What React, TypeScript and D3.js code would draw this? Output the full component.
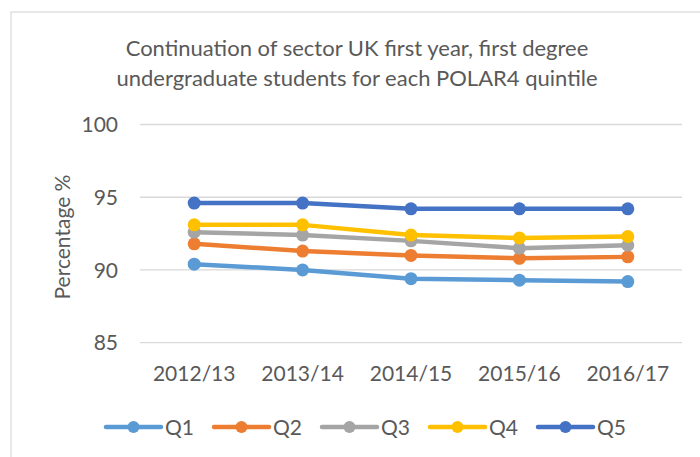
import * as d3 from "d3";

const years = ["2012/13", "2013/14", "2014/15", "2015/16", "2016/17"];
const quintiles = ["Q1", "Q2", "Q3", "Q4", "Q5"];
const q1 = [90.4, 90.0, 89.4, 89.3, 89.2];
const q2 = [91.8, 91.3, 91.0, 90.8, 90.9];
const q3 = [92.6, 92.4, 92.0, 91.5, 91.7];
const q4 = [93.1, 93.1, 92.4, 92.2, 92.3];
const q5 = [94.6, 94.6, 94.2, 94.2, 94.2];
const yTicks = [85, 90, 95, 100];
const colors = ["#5B9BD5", "#ED7D31", "#A5A5A5", "#FFC000", "#4472C4"];

const series = [q1, q2, q3, q4, q5];

export default function App() {
  const width = 700;
  const height = 457;
  const font = "Lato, 'Open Sans', sans-serif";
  const textColor = "#595959";

  const x = d3.scaleBand<string>().domain(years).range([140, 682]);
  const y = d3.scaleLinear().domain([85, 100]).range([342.7, 124.5]);
  const line = d3
    .line<number>()
    .x((_, i) => (x(years[i]) as number) + x.bandwidth() / 2)
    .y((d) => y(d));

  const legendX = d3.scalePoint<string>().domain(quintiles).range([106, 538]);

  return (
    <svg
      width={width}
      height={height}
      style={{ position: "absolute", left: 0, top: 0, background: "#fff" }}
      fontFamily={font}
    >
      <rect x={11} y={12} width={720} height={470} fill="#fff" stroke="#d9d9d9" strokeWidth={1.2} />
      <text x={357} y={56} textAnchor="middle" fontSize={22} fill={textColor}>
        Continuation of sector UK first year, first degree
      </text>
      <text x={357} y={86} textAnchor="middle" fontSize={22} fill={textColor}>
        undergraduate students for each POLAR4 quintile
      </text>

      {yTicks.map((t) => (
        <g key={t}>
          <line x1={140} x2={682} y1={y(t)} y2={y(t)} stroke="#d9d9d9" strokeWidth={1.3} />
          <text x={118} y={y(t)} dy="0.36em" textAnchor="end" fontSize={21} fill={textColor}>
            {t}
          </text>
        </g>
      ))}

      <text
        transform="translate(70,237) rotate(-90)"
        textAnchor="middle"
        fontSize={21}
        fill={textColor}
      >
        Percentage %
      </text>

      {years.map((yr) => (
        <text
          key={yr}
          x={(x(yr) as number) + x.bandwidth() / 2}
          y={373}
          dy="0.36em"
          textAnchor="middle"
          fontSize={21}
          fill={textColor}
        >
          {yr}
        </text>
      ))}

      {series.map((s, k) => (
        <g key={quintiles[k]}>
          <path d={line(s) ?? ""} fill="none" stroke={colors[k]} strokeWidth={4.5} strokeLinejoin="round" />
          {s.map((v, i) => (
            <circle
              key={i}
              cx={(x(years[i]) as number) + x.bandwidth() / 2}
              cy={y(v)}
              r={6.5}
              fill={colors[k]}
            />
          ))}
        </g>
      ))}

      {quintiles.map((q, k) => {
        const lx = legendX(q) as number;
        return (
          <g key={q}>
            <line x1={lx} x2={lx + 55} y1={427} y2={427} stroke={colors[k]} strokeWidth={4.5} strokeLinecap="round" />
            <circle cx={lx + 27.5} cy={427} r={6} fill={colors[k]} />
            <text x={lx + 59} y={427} dy="0.36em" fontSize={21} fill={textColor}>
              {q}
            </text>
          </g>
        );
      })}
    </svg>
  );
}
